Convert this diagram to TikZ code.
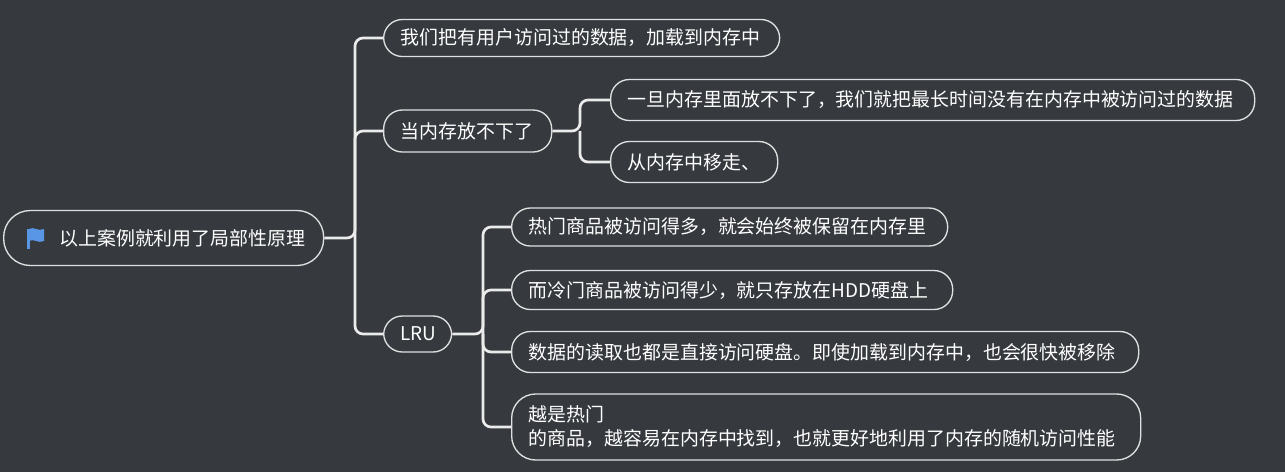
\documentclass[tikz,border=0pt]{standalone}
\usepackage{fontspec}
\newfontfamily\cjk{Noto Sans CJK SC}
\definecolor{bg}{RGB}{54,58,63}
\definecolor{flagblue}{RGB}{90,150,230}
\begin{document}
\begin{tikzpicture}[x=0.75pt,y=-0.75pt,
  box/.style 2 args={draw=white!88!black,line width=1pt,rounded corners=14pt,text=white,font=\cjk\fontsize{14.2}{18}\selectfont,inner sep=0pt,anchor=west,align=left,text width=#1*0.75pt,minimum height=#2*0.75pt,inner xsep=0pt,execute at begin node={\hspace*{12.75pt}}},
  link/.style={draw=white!92!black,line width=2pt,rounded corners=6pt}]
\fill[bg] (0,0) rectangle (1285,472);
\useasboundingbox (0,0) rectangle (1285,472);
\node[box={320}{55},rounded corners=20pt] (root) at (3,238) {\hspace*{29pt}以上案例就利用了局部性原理};
\fill[flagblue] (27,229) rectangle (29.5,249);
\fill[flagblue] (29,229) .. controls (34,226) and (38,232) .. (44,229) -- (44,241) .. controls (38,244) and (34,238) .. (29,241) -- cycle;
\node[box={396}{37}] (A) at (383,38) {我们把有用户访问过的数据，加载到内存中};
\node[box={168}{42}] (B) at (383,131) {当内存放不下了};
\node[box={644}{41}] (B1) at (610,100) {一旦内存里面放不下了，我们就把最长时间没有在内存中被访问过的数据};
\node[box={167}{41}] (B2) at (610,162) {从内存中移走、};
\node[box={68}{36}] (C) at (383,334) {LRU};
\node[box={436}{38}] (C1) at (511,227) {热门商品被访问得多，就会始终被保留在内存里};
\node[box={441}{39}] (C2) at (511,290) {而冷门商品被访问得少，就只存放在HDD硬盘上};
\node[box={627}{41}] (C3) at (511,352) {数据的读取也都是直接访问硬盘。即使加载到内存中，也会很快被移除};
\node[box={629}{66},rounded corners=18pt] (C4) at (511,427) {越是热门\\\hspace*{12.75pt}的商品，越容易在内存中找到，也就更好地利用了内存的随机访问性能};
\coordinate (t0) at (355,238);
\coordinate (t1) at (580,131);
\coordinate (t2) at (483,334);
\draw[link] (root.east) -- (t0) |- (A.west);
\draw[link] (t0) |- (B.west);
\draw[link] (t0) |- (C.west);
\draw[link] (B.east) -- (t1) |- (B1.west);
\draw[link] (t1) |- (B2.west);
\draw[link] (C.east) -- (t2) |- (C1.west);
\draw[link] (t2) |- (C2.west);
\draw[link] (t2) |- (C3.west);
\draw[link] (t2) |- (C4.west);
\end{tikzpicture}
\end{document}
